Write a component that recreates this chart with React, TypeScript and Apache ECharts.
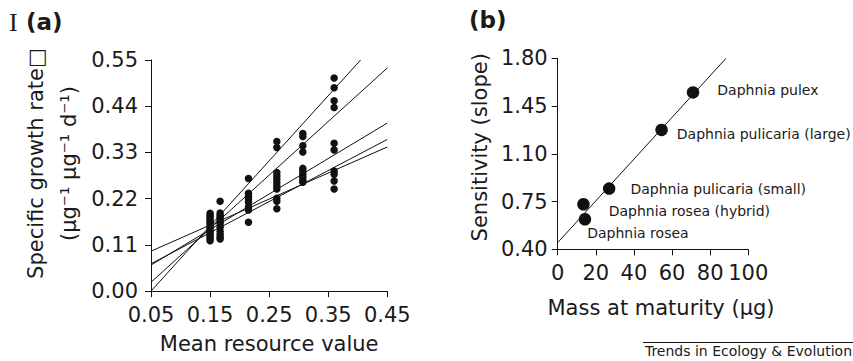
import React, { useEffect, useRef } from "react";
import * as echarts from "echarts";

// ---------- Panel (a) data ----------
const resourceLevels = [0.15, 0.167, 0.215, 0.263, 0.307, 0.36];
const growthAt015 = [0.185, 0.18, 0.175, 0.17, 0.165, 0.16, 0.155, 0.15, 0.145, 0.14, 0.135, 0.13, 0.125, 0.12];
const growthAt017 = [0.214, 0.186, 0.18, 0.175, 0.17, 0.165, 0.16, 0.152, 0.142, 0.135, 0.128, 0.124];
const growthAt021 = [0.268, 0.233, 0.226, 0.219, 0.212, 0.2, 0.193, 0.164];
const growthAt026 = [0.356, 0.342, 0.282, 0.274, 0.266, 0.258, 0.25, 0.243, 0.221, 0.214, 0.196];
const growthAt031 = [0.375, 0.368, 0.346, 0.331, 0.292, 0.285, 0.278, 0.271, 0.264, 0.259];
const growthAt036 = [0.507, 0.484, 0.453, 0.437, 0.352, 0.336, 0.286, 0.278, 0.262, 0.243];
const growthByLevel = [growthAt015, growthAt017, growthAt021, growthAt026, growthAt031, growthAt036];

// regression lines: value at x = 0.05 and slope
const fitValueAtMin = [0.0, 0.021, 0.062, 0.065, 0.095];
const fitSlopes = [1.55, 1.275, 0.845, 0.74, 0.62];

const resourceMin = 0.05;
const resourceMax = 0.45;
const resourceInterval = 0.1;
const growthMin = 0;
const growthMax = 0.55;
const growthInterval = 0.11;

// ---------- Panel (b) data ----------
const speciesNames = [
  "Daphnia pulex",
  "Daphnia pulicaria (large)",
  "Daphnia pulicaria (small)",
  "Daphnia rosea (hybrid)",
  "Daphnia rosea",
];
const massAtMaturity = [71, 54.5, 27, 13.5, 14.3];
const sensitivity = [1.55, 1.275, 0.845, 0.73, 0.62];
const sensFitIntercept = 0.449;
const sensFitSlope = 0.0153;

const massMin = 0;
const massMax = 100;
const massInterval = 20;
const sensMin = 0.4;
const sensMax = 1.8;
const sensInterval = 0.35;

const FONT = "DejaVu Sans";
const INK = "#111111";
const TEXT = "#1a1a1a";

export default function App() {
  const ref = useRef<HTMLDivElement>(null);

  useEffect(() => {
    if (!ref.current) return;
    const chart = echarts.init(ref.current, undefined, { renderer: "svg" });

    const scatterA: number[][] = [];
    resourceLevels.forEach((x, i) => {
      growthByLevel[i].forEach((y) => scatterA.push([x, y]));
    });

    const fitLines = fitValueAtMin.map((b, i) => {
      const m = fitSlopes[i];
      let x1 = resourceMax;
      let y1 = b + m * (resourceMax - resourceMin);
      if (y1 > growthMax) {
        x1 = resourceMin + (growthMax - b) / m;
        y1 = growthMax;
      }
      return {
        type: "line",
        xAxisIndex: 0,
        yAxisIndex: 0,
        data: [
          [resourceMin, b],
          [x1, y1],
        ],
        symbol: "none",
        lineStyle: { color: INK, width: 1 },
        clip: false,
        silent: true,
        z: 2,
      };
    });

    const labelOffsets = [
      [13, -2],
      [4, 4],
      [10, 0],
      [14, 7],
      [-9, 14],
    ];

    const scatterB = speciesNames.map((name, i) => ({
      name,
      value: [massAtMaturity[i], sensitivity[i]],
      label: {
        show: true,
        position: "right",
        offset: labelOffsets[i],
        formatter: name,
        fontFamily: FONT,
        fontSize: 14,
        color: TEXT,
      },
    }));

    const sensFitEndX = (sensMax - sensFitIntercept) / sensFitSlope;

    const axisCommon = {
      type: "value",
      axisLine: { show: true, lineStyle: { color: INK, width: 1 } },
      axisTick: { show: true, length: 6, lineStyle: { color: INK, width: 1 } },
      splitLine: { show: false },
    };

    const option: any = {
      animation: false,
      textStyle: { fontFamily: FONT },
      grid: [
        { left: 151, top: 60, width: 236.3, height: 235.7 },
        { left: 557.7, top: 58.3, width: 190.6, height: 191 },
      ],
      xAxis: [
        {
          ...axisCommon,
          gridIndex: 0,
          min: resourceMin,
          max: resourceMax,
          interval: resourceInterval,
          axisLabel: {
            formatter: (v: number) => v.toFixed(2),
            fontSize: 21,
            lineHeight: 24,
            color: TEXT,
            margin: 12,
            fontFamily: FONT,
          },
          name: "Mean resource value",
          nameLocation: "middle",
          nameGap: 40,
          nameTextStyle: { fontSize: 21, lineHeight: 24, color: TEXT, fontFamily: FONT },
        },
        {
          ...axisCommon,
          gridIndex: 1,
          min: massMin,
          max: massMax,
          interval: massInterval,
          axisLabel: {
            fontSize: 21,
            lineHeight: 24,
            color: TEXT,
            margin: 12,
            fontFamily: FONT,
          },
          name: "Mass at maturity (μg)",
          nameLocation: "middle",
          nameGap: 47,
          nameTextStyle: {
            fontSize: 21,
            lineHeight: 24,
            color: TEXT,
            fontFamily: FONT,
            padding: [0, 0, 0, 16],
          },
        },
      ],
      yAxis: [
        {
          ...axisCommon,
          gridIndex: 0,
          min: growthMin,
          max: growthMax,
          interval: growthInterval,
          axisLabel: {
            formatter: (v: number) => v.toFixed(2),
            fontSize: 21,
            lineHeight: 24,
            color: TEXT,
            margin: 13,
            fontFamily: FONT,
          },
          name: "Specific growth rate□\n(μg⁻¹ μg⁻¹ d⁻¹)",
          nameLocation: "middle",
          nameRotate: 90,
          nameGap: 66,
          nameTextStyle: {
            fontSize: 21,
            lineHeight: 33,
            color: TEXT,
            fontFamily: FONT,
            padding: [0, 0, 0, 24],
          },
        },
        {
          ...axisCommon,
          gridIndex: 1,
          min: sensMin,
          max: sensMax,
          interval: sensInterval,
          axisLabel: {
            formatter: (v: number) => v.toFixed(2),
            fontSize: 21,
            lineHeight: 24,
            color: TEXT,
            margin: 10,
            fontFamily: FONT,
          },
          name: "Sensitivity (slope)",
          nameLocation: "middle",
          nameRotate: 90,
          nameGap: 66,
          nameTextStyle: {
            fontSize: 21,
            lineHeight: 24,
            color: TEXT,
            fontFamily: FONT,
            padding: [0, 0, 0, 13],
          },
        },
      ],
      series: [
        ...fitLines,
        {
          type: "scatter",
          xAxisIndex: 0,
          yAxisIndex: 0,
          data: scatterA,
          symbolSize: 7.5,
          itemStyle: { color: INK, opacity: 1 },
          z: 3,
        },
        {
          type: "line",
          xAxisIndex: 1,
          yAxisIndex: 1,
          data: [
            [massMin, sensFitIntercept],
            [sensFitEndX, sensMax],
          ],
          symbol: "none",
          lineStyle: { color: INK, width: 1 },
          clip: false,
          silent: true,
          z: 2,
        },
        {
          type: "scatter",
          xAxisIndex: 1,
          yAxisIndex: 1,
          data: scatterB,
          symbolSize: 12.5,
          itemStyle: { color: INK, opacity: 1 },
          z: 3,
        },
      ],
      graphic: [
        {
          type: "text",
          left: 9,
          top: 9,
          style: { text: "I", font: '26px "Liberation Serif"', fill: TEXT },
        },
        {
          type: "text",
          left: 26,
          top: 10,
          style: { text: "(a)", font: `bold 23px "${FONT}"`, fill: TEXT },
        },
        {
          type: "text",
          left: 469,
          top: 8,
          style: { text: "(b)", font: `bold 23px "${FONT}"`, fill: TEXT },
        },
        {
          type: "line",
          shape: { x1: 643, y1: 342.5, x2: 853, y2: 342.5 },
          style: { stroke: INK, lineWidth: 1 },
        },
        {
          type: "text",
          right: 1,
          top: 344,
          style: { text: "Trends in Ecology & Evolution", font: `14px "${FONT}"`, fill: TEXT },
        },
      ],
    };

    chart.setOption(option);
    return () => chart.dispose();
  }, []);

  return (
    <div
      ref={ref}
      style={{ position: "fixed", left: 0, top: 0, width: 853, height: 361, background: "#fff" }}
    />
  );
}
